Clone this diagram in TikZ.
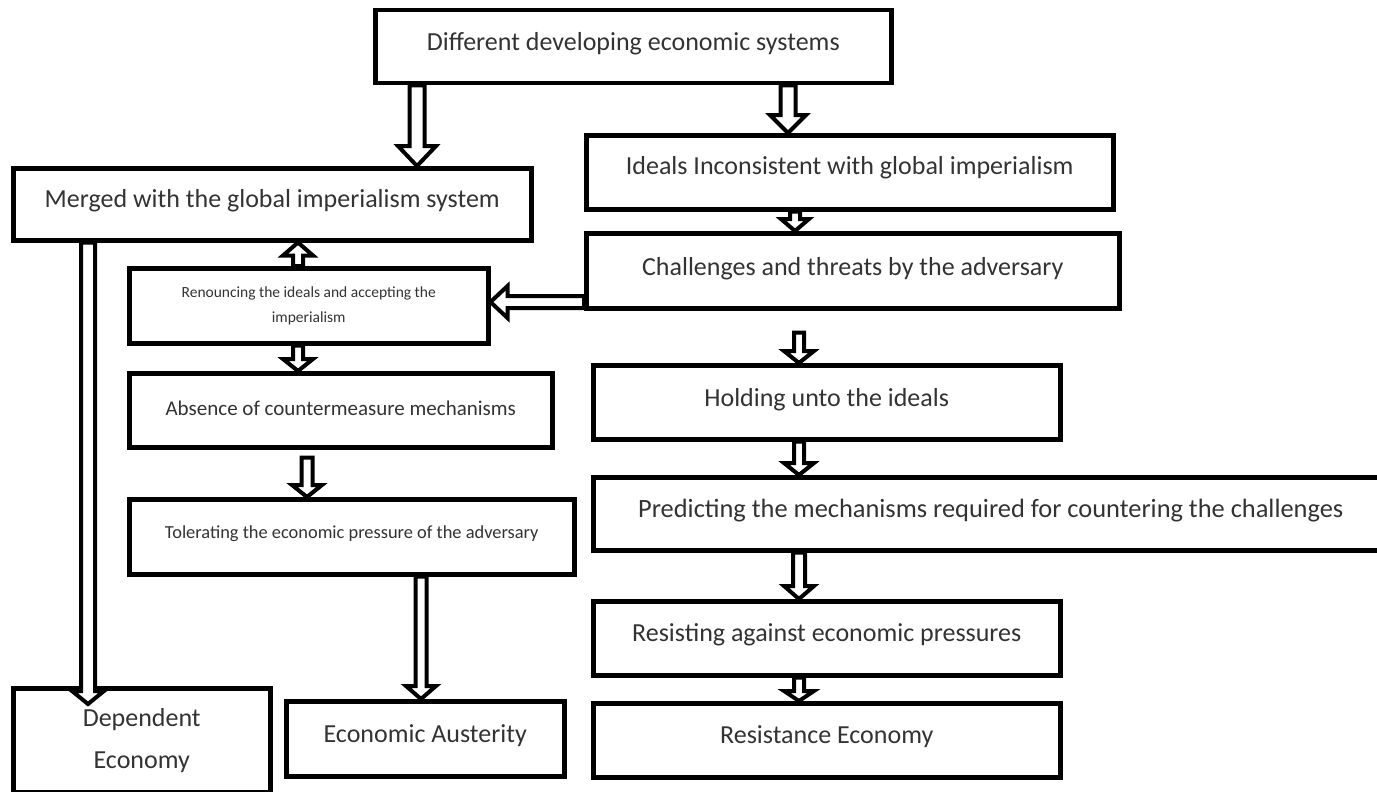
\documentclass[tikz,border=0pt]{standalone}
\usepackage{fontspec}
\setmainfont{Carlito}
\usetikzlibrary{calc}
\tikzset{
  box/.style={draw=black, line width=4.5pt, fill=white, inner sep=0pt, anchor=north west, text=black!80},
  harrow/.style={draw=black, line width=4pt, fill=white, line join=miter},
  big/.style={font=\fontsize{26}{31}\selectfont},
}
% hollow block arrow: start, end, half shaft, half head, head length
\newcommand\blockarrow[5]{%
  \path (#1) coordinate (bas) (#2) coordinate (bae);
  \path ($(bae)!#5!(bas)$) coordinate (bah);
  \draw[harrow] ($(bas)!#3!90:(bae)$) -- ($(bah)!#3!90:(bae)$) -- ($(bah)!#4!90:(bae)$)
     -- (bae) -- ($(bah)!#4!-90:(bae)$) -- ($(bah)!#3!-90:(bae)$) -- ($(bas)!#3!-90:(bae)$) -- cycle;
}
\begin{document}
\begin{tikzpicture}[x=1pt,y=-1pt]
\useasboundingbox (0,0) rectangle (1377,792);
\clip (0,0) rectangle (1377,792);

% boxes
\node[box, big, minimum width=516pt, text height=40pt, text depth=33pt] (top) at (373,8) {Different developing economic systems};
\node[box, big, minimum width=518pt, text height=39pt, text depth=33pt] (merged) at (11,166) {Merged with the global imperialism system};
\node[box, big, minimum width=527pt, text height=39pt, text depth=35pt] (ideals) at (584,133) {Ideals Inconsistent with global imperialism};
\node[box, big, minimum width=533pt, text height=42pt, text depth=33pt] (chall) at (584,231) {Challenges and threats by the adversary};
\node[box, minimum width=359pt, minimum height=75pt, align=center, font=\fontsize{15.5}{25}\selectfont] (renounce) at (127,266) {Renouncing the ideals and accepting the\\imperialism};
\node[box, minimum width=423pt, text height=42pt, text depth=32pt, font=\fontsize{21}{25}\selectfont] (absence) at (127,371) {Absence of countermeasure mechanisms};
\node[box, minimum width=445pt, text height=39pt, text depth=36pt, font=\fontsize{18.4}{22}\selectfont] (toler) at (127,497) {Tolerating the economic pressure of the adversary};
\node[box, big, minimum width=467pt, text height=41pt, text depth=33pt] (holding) at (591,363) {Holding unto the ideals};
\node[box, minimum width=795pt, text height=40pt, text depth=33pt, font=\fontsize{26.4}{31}\selectfont] (predict) at (591,475) {Predicting the mechanisms required for countering the challenges};
\node[box, big, minimum width=467pt, text height=40pt, text depth=34pt] (resisting) at (591,599) {Resisting against economic pressures};
\node[box, big, minimum width=467pt, text height=40pt, text depth=34pt] (resistance) at (591,701) {Resistance Economy};
\node[box, big, minimum width=278pt, text height=41pt, text depth=34pt] (auster) at (284,699) {Economic Austerity};
\node[box, minimum width=257pt, minimum height=104pt, align=center, font=\fontsize{26}{42}\selectfont] (depend) at (11,686) {Dependent\\Economy};

% x / y guides for connectors
\coordinate (xa) at (417,0);
\coordinate (xb) at (788,0);
\coordinate (xc) at (795,0);
\coordinate (yd) at (0,302);
\coordinate (xe) at (298,0);
\coordinate (xf) at (307,0);
\coordinate (xg) at (421,0);
\coordinate (xh) at (88,0);
\coordinate (xj) at (799,0);
\coordinate (dtip) at ($(depend.north -| xh)+(0,18)$);
\coordinate (cstart) at ($(chall.south -| xj)+(0,22)$);
\coordinate (astart) at ($(absence.south -| xf)+(0,8)$);

% connectors
\blockarrow{top.south -| xa}{merged.north -| xa}{7.5pt}{19pt}{20pt}
\blockarrow{top.south -| xb}{ideals.north -| xb}{7.5pt}{18pt}{18pt}
\blockarrow{ideals.south -| xc}{chall.north -| xc}{5pt}{14pt}{12pt}
\blockarrow{chall.west |- yd}{renounce.east |- yd}{6pt}{16pt}{17pt}
\blockarrow{renounce.north -| xe}{merged.south -| xe}{5pt}{15pt}{13pt}
\blockarrow{renounce.south -| xe}{absence.north -| xe}{5pt}{15pt}{12pt}
\blockarrow{astart}{toler.north -| xf}{5.5pt}{15pt}{12pt}
\blockarrow{toler.south -| xg}{auster.north -| xg}{5.5pt}{15pt}{13pt}
\blockarrow{merged.south -| xh}{dtip}{7pt}{16pt}{13pt}
\blockarrow{cstart}{holding.north -| xj}{5pt}{15pt}{12pt}
\blockarrow{holding.south -| xj}{predict.north -| xj}{5pt}{15pt}{12pt}
\blockarrow{predict.south -| xj}{resisting.north -| xj}{6pt}{15pt}{13pt}
\blockarrow{resisting.south -| xj}{resistance.north -| xj}{5pt}{15pt}{10pt}
\end{tikzpicture}
\end{document}
